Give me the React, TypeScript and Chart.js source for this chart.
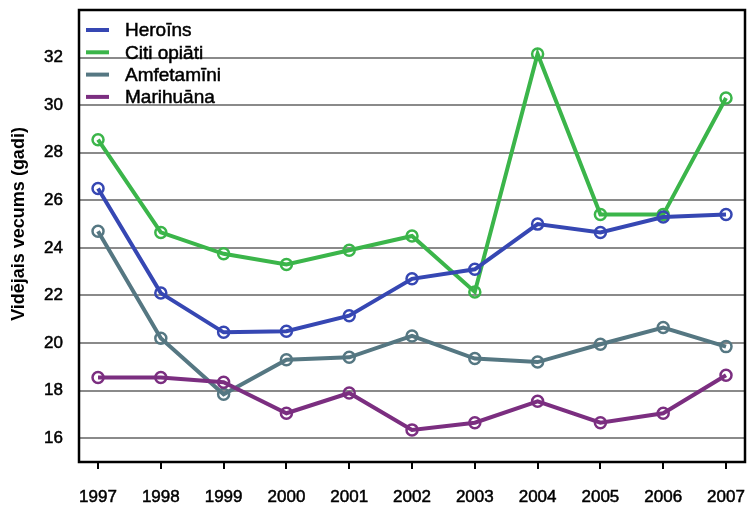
import React, { useEffect, useRef } from "react";
import { Chart, registerables } from "chart.js";

Chart.register(...registerables);

const years = [1997, 1998, 1999, 2000, 2001, 2002, 2003, 2004, 2005, 2006, 2007];
const heroins = [26.5, 22.1, 20.45, 20.5, 21.15, 22.7, 23.1, 25.0, 24.65, 25.3, 25.4];
const citiOpiati = [28.55, 24.65, 23.75, 23.3, 23.9, 24.5, 22.15, 32.15, 25.4, 25.4, 30.3];
const amfetamini = [24.7, 20.2, 17.85, 19.3, 19.4, 20.3, 19.35, 19.2, 19.95, 20.65, 19.85];
const marihuana = [18.55, 18.55, 18.35, 17.05, 17.9, 16.35, 16.65, 17.55, 16.65, 17.05, 18.65];
const yTicks = [16, 18, 20, 22, 24, 26, 28, 30, 32];
const seriesNames = ["Heroīns", "Citi opiāti", "Amfetamīni", "Marihuāna"];
const seriesColors = ["#3647b3", "#3bb54a", "#557782", "#7b2e80"];
const yTitle = "Vidējais vecums (gadi)";

const FONT = "'Liberation Sans', Arial, Helvetica, sans-serif";

const framePlugin = {
  id: "framePlugin",
  afterDraw(chart: any) {
    const { ctx, chartArea } = chart;
    const { left, top, right, bottom } = chartArea;
    ctx.save();
    ctx.strokeStyle = "#000";
    ctx.lineWidth = 2.5;
    ctx.strokeRect(left, top, right - left, bottom - top);
    ctx.restore();

    // y-axis title
    ctx.save();
    ctx.translate(19, 224);
    ctx.rotate(-Math.PI / 2);
    ctx.fillStyle = "#000";
    ctx.font = `bold 18px ${FONT}`;
    ctx.textAlign = "center";
    ctx.textBaseline = "middle";
    ctx.fillText(yTitle, 0, 0);
    ctx.restore();

    // legend inside chart area
    ctx.save();
    const datasets = chart.data.datasets;
    datasets.forEach((ds: any, i: number) => {
      const cy = top + 20 + i * 22.3;
      ctx.strokeStyle = ds.borderColor;
      ctx.lineWidth = 4;
      ctx.beginPath();
      ctx.moveTo(left + 7, cy);
      ctx.lineTo(left + 30, cy);
      ctx.stroke();
      ctx.fillStyle = "#000";
      ctx.strokeStyle = "#000";
      ctx.lineWidth = 0.5;
      ctx.font = `19px ${FONT}`;
      ctx.textAlign = "left";
      ctx.textBaseline = "middle";
      ctx.fillText(ds.label, left + 46, cy + 1);
      ctx.strokeText(ds.label, left + 46, cy + 1);
    });
    ctx.restore();
  },
};

export default function App() {
  const canvasRef = useRef<HTMLCanvasElement | null>(null);

  useEffect(() => {
    document.body.style.margin = "0";
    const canvas = canvasRef.current;
    if (!canvas) return;
    const seriesValues = [heroins, citiOpiati, amfetamini, marihuana];
    const drawOrder = [1, 2, 4, 3];
    const chart = new Chart(canvas, {
      type: "line",
      data: {
        datasets: seriesValues.map((vals, i) => ({
          label: seriesNames[i],
          data: years.map((yr, j) => ({ x: yr, y: vals[j] })),
          borderColor: seriesColors[i],
          backgroundColor: "rgba(255,255,255,0)",
          borderWidth: 4,
          pointRadius: 5.5,
          pointBorderWidth: 2.5,
          pointBackgroundColor: "rgba(255,255,255,0)",
          pointBorderColor: seriesColors[i],
          tension: 0,
          order: drawOrder[i],
        })),
      },
      options: {
        animation: false,
        responsive: false,
        devicePixelRatio: 1,
        layout: { autoPadding: false, padding: { left: 0, top: 10, right: 3, bottom: 0 } },
        plugins: {
          legend: { display: false },
          tooltip: { enabled: false },
        },
        scales: {
          x: {
            type: "linear",
            min: 1996.697,
            max: 2007.3025,
            afterBuildTicks: (scale: any) => {
              scale.ticks = years.map((v) => ({ value: v }));
            },
            afterFit: (scale: any) => {
              scale.height = 44;
              scale.paddingLeft = 0;
              scale.paddingRight = 0;
              scale.paddingTop = 0;
              scale.paddingBottom = 0;
            },
            border: { display: false },
            grid: {
              drawOnChartArea: false,
              drawTicks: true,
              tickLength: 7,
              color: "#000",
              lineWidth: 2,
            },
            ticks: {
              autoSkip: false,
              maxRotation: 0,
              padding: 18,
              color: "#000",
              textStrokeColor: "#000",
              textStrokeWidth: 0.5,
              font: { family: FONT, size: 17 },
              callback: (v: any) => String(v),
            },
          },
          y: {
            type: "linear",
            min: 15,
            max: 34,
            afterBuildTicks: (scale: any) => {
              scale.ticks = yTicks.map((v) => ({ value: v }));
            },
            afterFit: (scale: any) => {
              scale.width = 79;
              scale.paddingLeft = 0;
              scale.paddingRight = 0;
              scale.paddingTop = 0;
              scale.paddingBottom = 0;
            },
            border: { display: false },
            grid: {
              drawTicks: false,
              color: "#8a8a8a",
              lineWidth: 2,
            },
            ticks: {
              padding: 16,
              color: "#000",
              textStrokeColor: "#000",
              textStrokeWidth: 0.5,
              font: { family: FONT, size: 17 },
              callback: (v: any) => String(v),
            },
          },
        },
      },
      plugins: [framePlugin],
    });
    return () => chart.destroy();
  }, []);

  return (
    <div style={{ position: "absolute", left: 0, top: 0, width: 748, height: 506, background: "#fff" }}>
      <canvas ref={canvasRef} width={748} height={506} style={{ width: 748, height: 506 }} />
    </div>
  );
}
